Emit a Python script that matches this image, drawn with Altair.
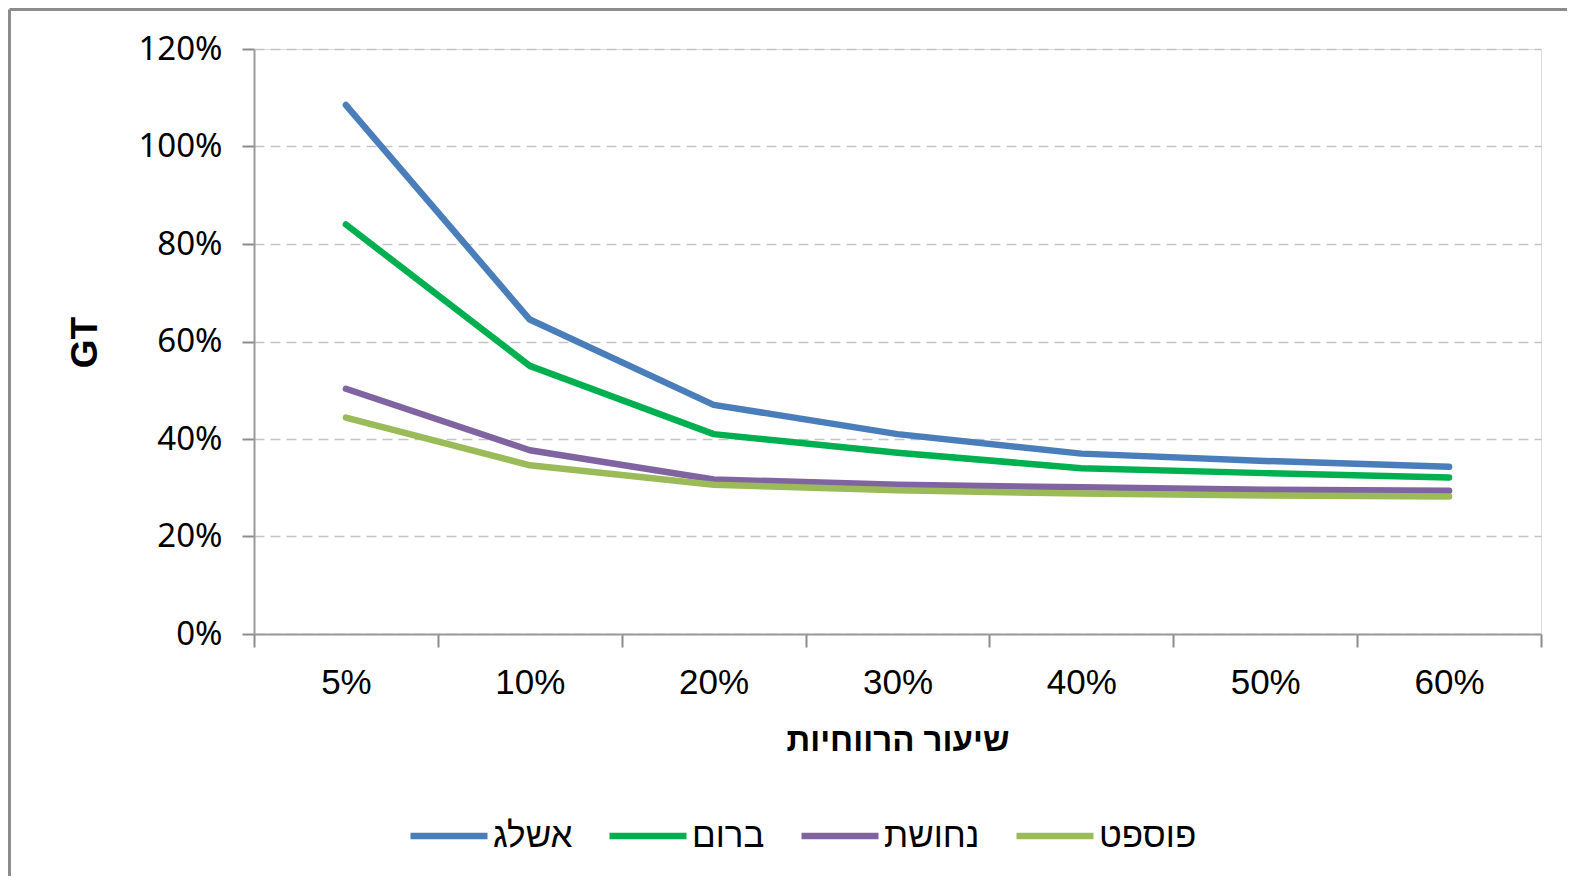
import altair as alt
import pandas as pd

categories = ["5%", "10%", "20%", "30%", "40%", "50%", "60%"]
series_names = ["אשלג", "ברום", "נחושת", "פוספט"]
potash = [108.5, 64.5, 47.0, 41.0, 37.0, 35.5, 34.3]
bromine = [84.0, 55.0, 41.0, 37.2, 34.0, 33.0, 32.1]
copper = [50.3, 37.7, 31.7, 30.6, 30.1, 29.6, 29.4]
phosphate = [44.4, 34.6, 30.6, 29.5, 28.8, 28.4, 28.2]
colors = ["#4A7EBB", "#00B050", "#8064A2", "#9BBB59"]

rows = []
for name, vals in zip(series_names, [potash, bromine, copper, phosphate]):
    for c, v in zip(categories, vals):
        rows.append({"rate": c, "value": v / 100.0, "series": name})
df = pd.DataFrame(rows)

W, H = 1287, 585
PL, PT = 246, 41

lines = alt.Chart(df).mark_line(strokeWidth=6.5, strokeCap="round", strokeJoin="round").encode(
    x=alt.X("rate:N", sort=categories,
            scale=alt.Scale(type="band", paddingInner=0, paddingOuter=0),
            axis=alt.Axis(title="שיעור הרווחיות", labelAngle=0, tickBand="extent",
                          labelFont="Liberation Sans", labelFontSize=35, labelColor="#000000",
                          labelPadding=18, tickSize=13, tickColor="#8c8c8c", tickWidth=2,
                          domainColor="#9a9a9a", domainWidth=2, grid=False,
                          titleFont="Liberation Sans", titleFontSize=33, titleFontWeight="bold",
                          titleColor="#000000", titleX=W / 2, titleY=106, titleBaseline="middle",
                          titleAlign="center")),
    y=alt.Y("value:Q", scale=alt.Scale(domain=[0, 1.2], nice=False),
            axis=alt.Axis(title="GT", format=".0%", values=[0, 0.2, 0.4, 0.6, 0.8, 1.0, 1.2],
                          labelFont="Noto Sans", labelFontSize=33, labelColor="#000000",
                          labelPadding=20, tickSize=12, tickColor="#8c8c8c", tickWidth=2,
                          domainColor="#9a9a9a", domainWidth=2,
                          grid=True, gridColor="#c4c4c4", gridDash=[10, 6], gridWidth=1.5,
                          titleFont="Liberation Sans", titleFontSize=37, titleFontWeight="bold",
                          titleColor="#000000", titleAngle=270, titleX=-169, titleY=293,
                          titleBaseline="middle", titleAlign="center")),
    color=alt.Color("series:N", sort=series_names,
                    scale=alt.Scale(domain=series_names, range=colors),
                    legend=alt.Legend(title=None, orient="none", legendX=153, legendY=745,
                                      direction="horizontal", symbolType="stroke",
                                      symbolSize=5929, symbolStrokeWidth=6.5,
                                      labelFont="Liberation Sans", labelFontSize=35,
                                      labelColor="#000000", labelOffset=2, columnPadding=23)),
)

border_df = pd.DataFrame({"k": [0]})
left_border = alt.Chart(border_df).mark_rule(color="#8c8c8c", strokeWidth=3).encode(
    x=alt.value(-PL + 1.5), y=alt.value(-PT + 1.5), y2=alt.value(H + 300))
top_border = alt.Chart(border_df).mark_rule(color="#8c8c8c", strokeWidth=3).encode(
    x=alt.value(-PL + 1.5), x2=alt.value(W + 300), y=alt.value(-PT + 1.5))

chart = alt.layer(left_border, top_border, lines).properties(
    width=W, height=H,
    autosize=alt.AutoSizeParams(type="none"),
    padding={"left": PL, "top": PT, "right": 1559 - PL - W, "bottom": 868 - PT - H},
).configure_view(stroke=None).configure(background="white")

chart.save("out.html", embed_options={"renderer": "svg", "actions": False})
